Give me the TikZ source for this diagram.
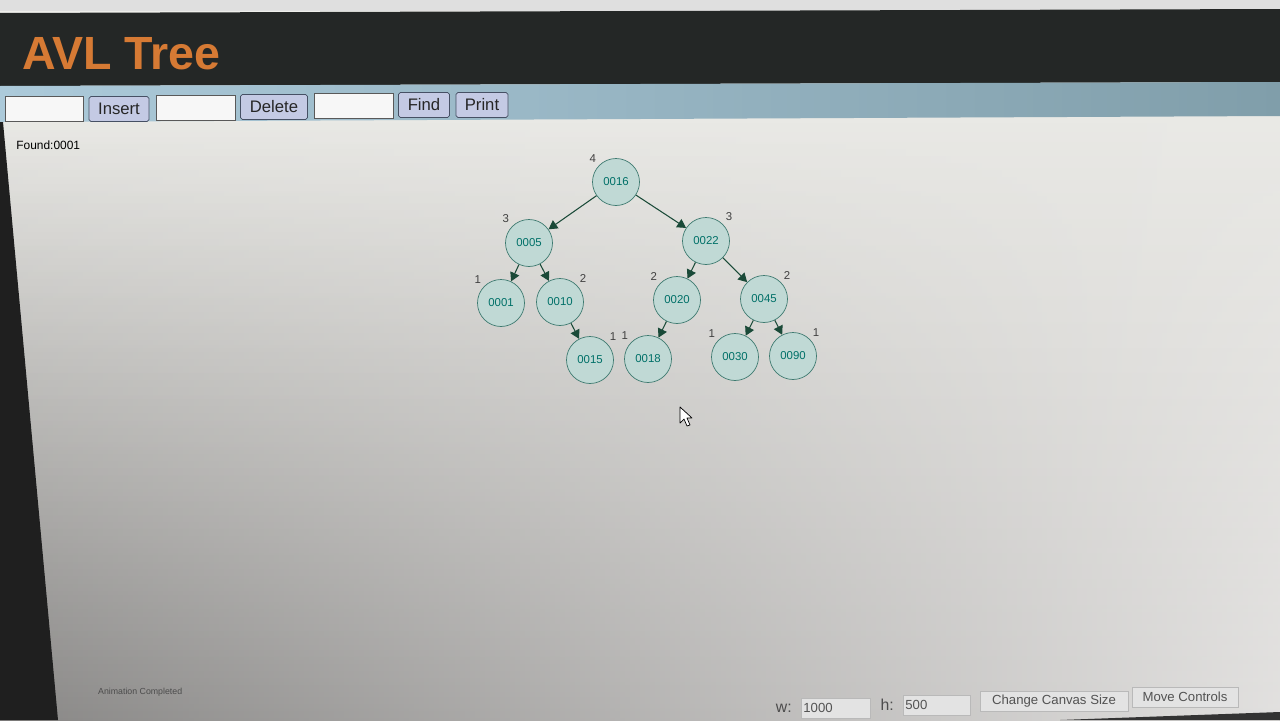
\documentclass[tikz,border=0pt]{standalone}
\usepackage{fontspec}
\setmainfont{Liberation Sans}
\usetikzlibrary{positioning}
\usetikzlibrary{arrows.meta,fadings}
\definecolor{pagetop}{RGB}{238,238,234}
\definecolor{pagebot}{RGB}{210,208,206}
\definecolor{headbg}{RGB}{36,39,38}
\definecolor{titleorange}{RGB}{214,122,52}
\definecolor{barleft}{RGB}{172,202,218}
\definecolor{barright}{RGB}{128,158,170}
\definecolor{btnfill}{RGB}{196,202,228}
\definecolor{btnline}{RGB}{70,80,100}
\definecolor{nodefill}{RGB}{192,217,213}
\definecolor{nodeline}{RGB}{62,122,112}
\definecolor{nodetext}{RGB}{0,112,104}
\definecolor{edgecol}{RGB}{26,74,56}
\tikzset{% looks of the tree and the controls
        avl/.style={circle, draw=nodeline, fill=nodefill, minimum size=0.94cm, inner sep=0pt,
                    text=nodetext, font=\fontsize{6.5}{7}\selectfont},
        hgt/.style={font=\fontsize{6.5}{7}\selectfont, text=black!75, label distance=-2.5pt},
        edge/.style={draw=edgecol, line width=0.6pt, -{Triangle[length=5pt,width=5.5pt]}},
        btn/.style={draw=btnline, fill=btnfill, rounded corners=1pt, inner sep=0pt,
                    font=\fontsize{9.5}{10}\selectfont, text=black!85},
        field/.style={draw=gray!70!black, fill=white!94!gray, inner sep=0pt},
        ctl/.style={draw=gray!55, fill=gray!22, inner sep=0pt, text=gray!65!black,
                    font=\fontsize{7.5}{8}\selectfont}
        }

\begin{document}
\begin{tikzpicture}[x=0.02cm, y=-0.02cm]
\useasboundingbox (0,0) rectangle (1280,720);
\shade[top color=pagetop, bottom color=pagebot] (0,0) rectangle (1280,720);
\shade[left color=black, right color=white, opacity=0.35, path fading=north] (0,120) rectangle (1280,720);
\fill[gray!25] (0,0) rectangle (1280,11);
\fill[headbg] (0,13) -- (1280,9) -- (1280,82) -- (0,86) -- cycle;
\shade[left color=barleft, right color=barright] (0,86) -- (1280,82) -- (1280,116) -- (0,122) -- cycle;
\fill[black!88] (0,122) -- (3,122) -- (58,720) -- (0,720) -- cycle;
\fill[black!80] (1060,720) -- (1280,712) -- (1280,720) -- cycle;

\node[anchor=base west, inner sep=0pt, text=titleorange, font=\bfseries\fontsize{26.5}{27}\selectfont] (title) at (22,69) {AVL Tree};

\node[field, minimum width=1.56cm, minimum height=0.5cm] (insfield) at (44,109) {};
\node[btn, minimum width=1.2cm, minimum height=0.5cm] (insbtn) at (119,109) {Insert};
\node[field, minimum width=1.58cm, minimum height=0.5cm] (delfield) at (196,108) {};
\node[btn, minimum width=1.34cm, minimum height=0.5cm] (delbtn) at (274,107) {Delete};
\node[field, minimum width=1.58cm, minimum height=0.5cm] (findfield) at (354,106) {};
\node[btn, minimum width=1.02cm, minimum height=0.5cm] (findbtn) at (424,105) {Find};
\node[btn, minimum width=1.04cm, minimum height=0.5cm] (printbtn) at (482,105) {Print};

\node[anchor=west, inner sep=0pt, font=\fontsize{6.8}{7}\selectfont] (found) at (16,145) {Found:0001};

\node[avl, label={[hgt]135:4}] (n16) at (616,182) {0016};
\node[avl, label={[hgt]135:3}] (n05) at (529,243) {0005};
\node[avl, label={[hgt]45:3}] (n22) at (706,241) {0022};
\node[avl, label={[hgt]135:1}] (n01) at (501,303) {0001};
\node[avl, label={[hgt]45:2}] (n10) at (560,302) {0010};
\node[avl, label={[hgt]135:2}] (n20) at (677,300) {0020};
\node[avl, label={[hgt]45:2}] (n45) at (764,299) {0045};
\node[avl, label={[hgt]45:1}] (n15) at (590,360) {0015};
\node[avl, label={[hgt]135:1}] (n18) at (648,359) {0018};
\node[avl, label={[hgt]135:1}] (n30) at (735,357) {0030};
\node[avl, label={[hgt]45:1}] (n90) at (793,356) {0090};

\draw[edge] (n16) -- (n05);
\draw[edge] (n16) -- (n22);
\draw[edge] (n05) -- (n01);
\draw[edge] (n05) -- (n10);
\draw[edge] (n10) -- (n15);
\draw[edge] (n22) -- (n20);
\draw[edge] (n22) -- (n45);
\draw[edge] (n20) -- (n18);
\draw[edge] (n45) -- (n30);
\draw[edge] (n45) -- (n90);

\draw[fill=white, line width=0.4pt, line join=round] (680,407) -- (680,423) -- (684,419) -- (687,426) -- (690,425) -- (687,418) -- (692,418) -- cycle;

\node[anchor=west, text=gray!60!black, font=\fontsize{5}{6}\selectfont] (status) at (92,692) {Animation Completed};
\node[anchor=east, text=gray!60!black, font=\fontsize{9}{10}\selectfont] (wlabel) at (798,708) {w:};
\node[ctl, minimum width=1.38cm, minimum height=0.4cm, anchor=west, text width=1.3cm, align=left] (wfield) at (801,708) {1000};
\node[anchor=east, text=gray!60!black, font=\fontsize{9}{10}\selectfont] (hlabel) at (900,705) {h:};
\node[ctl, minimum width=1.34cm, minimum height=0.4cm, anchor=west, text width=1.26cm, align=left] (hfield) at (903,705) {500};
\node[ctl, minimum width=2.96cm, minimum height=0.4cm] (canvasbtn) at (1054,701) {Change Canvas Size};
\node[ctl, minimum width=2.12cm, minimum height=0.4cm] (movebtn) at (1185,697) {Move Controls};
\end{tikzpicture}
\end{document}
